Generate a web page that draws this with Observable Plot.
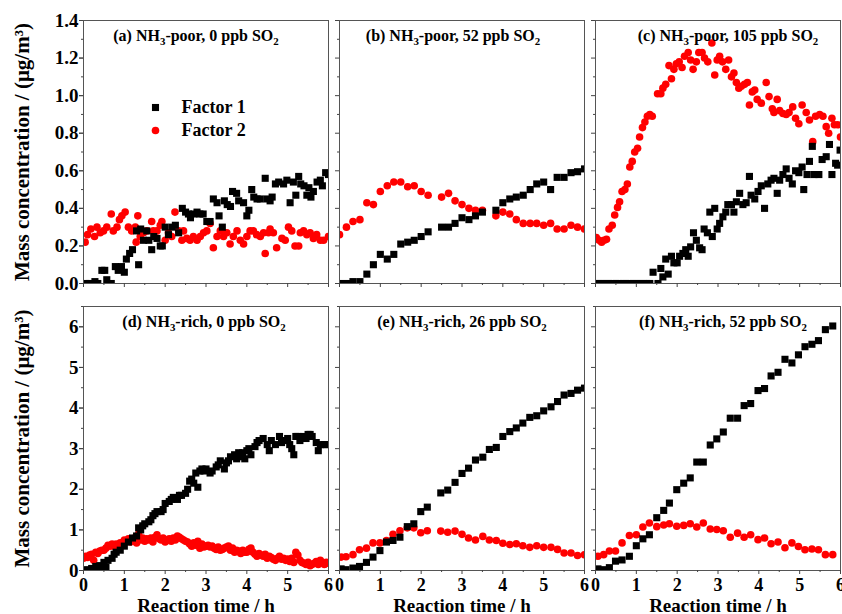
<!DOCTYPE html>
<html><head><meta charset="utf-8">
<script src="https://cdn.jsdelivr.net/npm/d3@7"></script>
<script src="https://cdn.jsdelivr.net/npm/@observablehq/plot@0.6"></script>
<style>
body{margin:0;background:#fff;}
#chart{position:relative;width:842px;height:614px;background:#fff;}
#chart svg{position:absolute;left:0;overflow:visible;}
</style></head><body><div id="chart"></div>
<script>
// ---------- text ----------
const titles = {
  a: "(a) NH₃-poor, 0 ppb SO₂",
  b: "(b) NH₃-poor, 52 ppb SO₂",
  c: "(c) NH₃-poor, 105 ppb SO₂",
  d: "(d) NH₃-rich, 0 ppb SO₂",
  e: "(e) NH₃-rich, 26 ppb SO₂",
  f: "(f) NH₃-rich, 52 ppb SO₂"
};
const legendLabels = ["Factor 1", "Factor 2"];
const yLabel = "Mass concentration / (μg/m³)";
const xLabel = "Reaction time / h";
const xTicks = [0, 1, 2, 3, 4, 5, 6];
const xMinorTicks = [0.5, 1.5, 2.5, 3.5, 4.5, 5.5];
const topYTicks = [0, 0.2, 0.4, 0.6, 0.8, 1.0, 1.2, 1.4];
const topYMinor = [0.1, 0.3, 0.5, 0.7, 0.9, 1.1, 1.3];
const bottomYTicks = [0, 1, 2, 3, 4, 5, 6];
const bottomYMinor = [0.5, 1.5, 2.5, 3.5, 4.5, 5.5, 6.5];

// ---------- data: [time h, mass µg/m3] ----------
const a1 = [[0.05,0.00],[0.15,0.00],[0.28,0.01],[0.35,0.00],[0.45,0.07],[0.52,0.07],[0.57,0.02],[0.68,0.00],[0.78,0.09],[0.85,0.07],[0.93,0.09],[1.00,0.06],[1.05,0.13],[1.13,0.16],[1.20,0.18],[1.30,0.28],[1.35,0.10],[1.40,0.29],[1.47,0.23],[1.55,0.28],[1.60,0.23],[1.67,0.18],[1.72,0.25],[1.80,0.24],[1.88,0.20],[1.93,0.20],[2.00,0.30],[2.08,0.26],[2.17,0.30],[2.25,0.31],[2.33,0.27],[2.42,0.40],[2.50,0.38],[2.57,0.37],[2.62,0.35],[2.70,0.37],[2.78,0.38],[2.85,0.37],[2.93,0.37],[3.02,0.33],[3.10,0.33],[3.18,0.45],[3.27,0.43],[3.32,0.36],[3.40,0.30],[3.45,0.44],[3.52,0.42],[3.60,0.41],[3.65,0.49],[3.75,0.48],[3.80,0.44],[3.92,0.43],[4.00,0.36],[4.05,0.39],[4.12,0.50],[4.17,0.46],[4.25,0.45],[4.33,0.45],[4.45,0.56],[4.50,0.45],[4.57,0.44],[4.62,0.46],[4.70,0.53],[4.78,0.54],[4.90,0.53],[4.98,0.55],[5.06,0.43],[5.14,0.54],[5.20,0.47],[5.27,0.57],[5.32,0.53],[5.40,0.52],[5.47,0.47],[5.52,0.51],[5.57,0.46],[5.63,0.49],[5.72,0.54],[5.80,0.55],[5.85,0.52],[5.93,0.59],[6.00,0.58]];
const a2 = [[0.04,0.22],[0.10,0.26],[0.18,0.29],[0.27,0.25],[0.33,0.30],[0.41,0.27],[0.49,0.28],[0.57,0.30],[0.68,0.37],[0.73,0.28],[0.82,0.30],[0.88,0.34],[0.94,0.36],[1.02,0.38],[1.10,0.30],[1.18,0.28],[1.27,0.30],[1.29,0.22],[1.33,0.36],[1.39,0.25],[1.47,0.27],[1.55,0.28],[1.67,0.33],[1.71,0.28],[1.80,0.28],[1.88,0.31],[1.92,0.33],[2.00,0.23],[2.08,0.27],[2.16,0.25],[2.24,0.38],[2.33,0.28],[2.41,0.23],[2.45,0.28],[2.53,0.24],[2.61,0.23],[2.69,0.25],[2.78,0.23],[2.86,0.25],[2.94,0.27],[3.02,0.28],[3.10,0.32],[3.18,0.19],[3.27,0.25],[3.35,0.28],[3.43,0.25],[3.51,0.27],[3.59,0.21],[3.67,0.25],[3.76,0.28],[3.84,0.23],[3.92,0.21],[4.00,0.25],[4.08,0.28],[4.16,0.28],[4.24,0.26],[4.33,0.25],[4.41,0.27],[4.45,0.16],[4.53,0.27],[4.57,0.29],[4.65,0.27],[4.73,0.19],[4.86,0.24],[4.94,0.23],[5.02,0.30],[5.10,0.28],[5.18,0.20],[5.27,0.20],[5.31,0.27],[5.39,0.28],[5.47,0.26],[5.55,0.27],[5.63,0.24],[5.71,0.26],[5.80,0.23],[5.88,0.23],[6.00,0.25]];

const bTime = [0,0.17,0.33,0.5,0.67,0.83,1.0,1.17,1.33,1.5,1.67,1.83,2.0,2.17,2.5,2.67,2.83,3.0,3.17,3.33,3.5,3.83,4.0,4.17,4.33,4.5,4.67,4.83,5.0,5.17,5.33,5.5,5.67,5.83,6.0];
const b1 = [0,0,0.01,0.01,0.05,0.10,0.155,0.13,0.155,0.21,0.22,0.23,0.25,0.275,0.30,0.30,0.32,0.35,0.34,0.36,0.38,0.39,0.43,0.45,0.46,0.47,0.50,0.53,0.54,0.50,0.565,0.565,0.59,0.595,0.61];
const b2 = [0.26,0.30,0.33,0.34,0.43,0.42,0.49,0.52,0.54,0.54,0.515,0.52,0.49,0.47,0.46,0.48,0.44,0.42,0.40,0.39,0.39,0.36,0.38,0.37,0.34,0.32,0.32,0.32,0.31,0.32,0.29,0.29,0.31,0.30,0.29];

const c1 = [[0,0],[0.08,0],[0.17,0],[0.25,0],[0.33,0],[0.42,0],[0.5,0],[0.58,0],[0.67,0],[0.75,0],[0.83,0],[0.92,0],[1.0,0],[1.08,0],[1.17,0],[1.25,0],[1.33,0],[1.41,0.06],[1.53,0.0],[1.60,0.08],[1.65,0.035],[1.72,0.13],[1.78,0.05],[1.86,0.145],[1.92,0.11],[2.00,0.11],[2.06,0.145],[2.14,0.16],[2.21,0.18],[2.27,0.145],[2.33,0.195],[2.40,0.27],[2.47,0.23],[2.55,0.19],[2.61,0.18],[2.66,0.29],[2.74,0.27],[2.80,0.38],[2.86,0.25],[2.92,0.40],[2.98,0.29],[3.04,0.32],[3.12,0.355],[3.19,0.38],[3.24,0.42],[3.33,0.42],[3.39,0.38],[3.45,0.435],[3.53,0.48],[3.61,0.42],[3.69,0.43],[3.77,0.57],[3.81,0.47],[3.90,0.45],[3.98,0.49],[4.06,0.52],[4.14,0.40],[4.22,0.53],[4.30,0.55],[4.37,0.56],[4.45,0.48],[4.51,0.55],[4.59,0.58],[4.67,0.61],[4.74,0.56],[4.82,0.53],[4.90,0.60],[4.98,0.59],[5.06,0.62],[5.10,0.50],[5.18,0.58],[5.24,0.65],[5.31,0.73],[5.35,0.58],[5.47,0.58],[5.55,0.66],[5.65,0.675],[5.73,0.74],[5.79,0.58],[5.88,0.64],[5.93,0.63],[5.99,0.71]];
const c2 = [[0.02,0.245],[0.09,0.23],[0.15,0.22],[0.21,0.23],[0.27,0.235],[0.33,0.29],[0.41,0.31],[0.47,0.365],[0.54,0.405],[0.59,0.435],[0.65,0.49],[0.72,0.50],[0.78,0.53],[0.84,0.62],[0.90,0.65],[0.96,0.70],[1.03,0.72],[1.08,0.78],[1.15,0.83],[1.21,0.86],[1.27,0.89],[1.33,0.90],[1.39,0.89],[1.52,1.01],[1.60,1.01],[1.65,1.04],[1.72,1.06],[1.80,1.16],[1.86,1.09],[1.92,1.14],[1.98,1.17],[2.05,1.18],[2.12,1.15],[2.18,1.21],[2.27,1.23],[2.33,1.19],[2.39,1.14],[2.47,1.18],[2.53,1.23],[2.61,1.23],[2.67,1.20],[2.75,1.18],[2.85,1.28],[2.92,1.11],[2.98,1.19],[3.04,1.21],[3.11,1.18],[3.19,1.14],[3.26,1.19],[3.33,1.10],[3.39,1.12],[3.45,1.07],[3.51,1.04],[3.57,1.05],[3.65,1.06],[3.72,1.07],[3.77,0.95],[3.84,1.02],[3.90,1.03],[3.96,0.98],[4.06,0.96],[4.18,1.07],[4.25,0.995],[4.33,0.93],[4.37,0.91],[4.45,0.98],[4.51,0.92],[4.59,0.905],[4.67,0.90],[4.74,0.91],[4.83,0.94],[4.90,0.88],[4.98,0.85],[5.06,0.95],[5.16,0.91],[5.24,0.87],[5.32,0.755],[5.39,0.89],[5.49,0.90],[5.57,0.89],[5.65,0.835],[5.71,0.80],[5.79,0.88],[5.85,0.845],[5.93,0.845],[6.00,0.78]];

const d1 = [[0.0,0.0],[0.05,0.0],[0.1,0.02],[0.15,0.0],[0.2,0.05],[0.25,0.02],[0.3,0.1],[0.35,0.05],[0.4,0.12],[0.45,0.1],[0.5,0.2],[0.55,0.08],[0.6,0.25],[0.7,0.3],[0.75,0.4],[0.8,0.45],[0.9,0.5],[1.0,0.6],[1.1,0.7],[1.2,0.8],[1.3,0.85],[1.35,1.05],[1.4,1.0],[1.45,1.1],[1.5,1.15],[1.6,1.2],[1.65,1.25],[1.7,1.35],[1.75,1.4],[1.8,1.45],[1.9,1.45],[1.95,1.5],[2.0,1.65],[2.1,1.7],[2.15,1.75],[2.2,1.8],[2.3,1.75],[2.35,1.85],[2.4,1.85],[2.5,1.9],[2.55,2.0],[2.6,2.2],[2.65,2.25],[2.7,2.15],[2.75,2.4],[2.8,2.05],[2.85,2.45],[2.9,2.5],[2.95,2.45],[3.0,2.5],[3.1,2.4],[3.15,2.45],[3.25,2.55],[3.3,2.6],[3.35,2.7],[3.45,2.5],[3.5,2.65],[3.55,2.7],[3.6,2.8],[3.7,2.85],[3.75,2.75],[3.8,2.9],[3.85,2.8],[3.9,2.9],[3.95,2.75],[4.0,2.95],[4.05,3.0],[4.1,2.85],[4.2,3.05],[4.25,3.15],[4.3,3.2],[4.4,3.25],[4.5,3.1],[4.55,2.95],[4.6,3.2],[4.7,3.1],[4.8,3.3],[4.85,3.15],[4.9,3.2],[5.0,3.25],[5.05,3.1],[5.1,3.0],[5.15,2.85],[5.2,3.3],[5.25,3.3],[5.3,3.2],[5.4,3.3],[5.45,3.25],[5.5,3.35],[5.55,3.35],[5.6,3.3],[5.7,3.15],[5.75,2.95],[5.8,3.1],[5.9,3.1],[5.95,3.1]];
const d2 = [[0.0,0.3],[0.05,0.35],[0.1,0.32],[0.15,0.38],[0.2,0.4],[0.25,0.25],[0.3,0.45],[0.35,0.42],[0.4,0.48],[0.45,0.5],[0.5,0.5],[0.55,0.55],[0.6,0.62],[0.65,0.6],[0.7,0.65],[0.75,0.6],[0.8,0.65],[0.85,0.62],[0.9,0.68],[0.95,0.65],[1.0,0.75],[1.05,0.72],[1.1,0.78],[1.15,0.7],[1.2,0.75],[1.25,0.8],[1.3,0.68],[1.35,0.9],[1.4,0.75],[1.45,0.8],[1.5,0.72],[1.55,0.78],[1.6,0.75],[1.65,0.8],[1.7,0.7],[1.75,0.82],[1.8,0.88],[1.85,0.78],[1.9,0.75],[1.95,0.8],[2.0,0.7],[2.05,0.75],[2.1,0.78],[2.15,0.72],[2.2,0.8],[2.25,0.75],[2.3,0.85],[2.35,0.82],[2.4,0.78],[2.45,0.75],[2.5,0.72],[2.55,0.7],[2.6,0.65],[2.65,0.6],[2.7,0.68],[2.75,0.62],[2.8,0.72],[2.85,0.55],[2.9,0.65],[2.95,0.58],[3.0,0.6],[3.05,0.62],[3.1,0.58],[3.15,0.6],[3.2,0.55],[3.25,0.52],[3.3,0.58],[3.35,0.5],[3.4,0.52],[3.45,0.55],[3.5,0.58],[3.55,0.6],[3.6,0.5],[3.65,0.55],[3.7,0.45],[3.75,0.5],[3.8,0.48],[3.85,0.42],[3.9,0.5],[3.95,0.45],[4.0,0.45],[4.05,0.52],[4.1,0.55],[4.15,0.45],[4.2,0.4],[4.25,0.35],[4.3,0.42],[4.35,0.38],[4.4,0.35],[4.45,0.4],[4.5,0.3],[4.55,0.35],[4.6,0.32],[4.65,0.28],[4.7,0.25],[4.75,0.3],[4.8,0.35],[4.85,0.28],[4.9,0.3],[4.95,0.25],[5.0,0.28],[5.05,0.22],[5.1,0.3],[5.15,0.2],[5.2,0.45],[5.25,0.38],[5.3,0.25],[5.35,0.2],[5.4,0.18],[5.45,0.15],[5.5,0.2],[5.55,0.12],[5.6,0.15],[5.65,0.18],[5.7,0.22],[5.75,0.15],[5.8,0.25],[5.85,0.2],[5.9,0.15],[5.95,0.2],[6.0,0.18]];

const eTime = [0.04,0.16,0.33,0.49,0.66,0.82,0.99,1.15,1.31,1.48,1.66,1.82,1.99,2.15,2.48,2.65,2.83,3.0,3.16,3.33,3.51,3.67,3.84,4.0,4.17,4.33,4.49,4.66,4.83,5.0,5.18,5.34,5.5,5.67,5.83,6.0];
const e1 = [0.04,0.02,0.06,0.10,0.2,0.33,0.49,0.70,0.74,0.82,1.08,1.15,1.45,1.56,1.91,1.98,2.17,2.39,2.52,2.72,2.79,2.98,3.03,3.3,3.42,3.51,3.63,3.77,3.81,3.93,4.03,4.16,4.32,4.36,4.44,4.49];
const e2 = [0.33,0.34,0.39,0.51,0.55,0.68,0.68,0.74,0.89,0.98,1.05,1.05,0.93,0.98,0.97,0.94,0.97,0.89,0.80,0.75,0.84,0.75,0.74,0.67,0.64,0.66,0.61,0.57,0.61,0.57,0.57,0.52,0.43,0.43,0.37,0.39];

const fTime = [0.06,0.2,0.34,0.49,0.65,0.83,1.0,1.16,1.32,1.5,1.67,1.81,1.99,2.16,2.32,2.48,2.64,2.81,2.97,3.13,3.3,3.48,3.64,3.8,3.98,4.14,4.3,4.47,4.64,4.81,4.97,5.13,5.3,5.46,5.63,5.81];
const f1 = [0.04,0.02,0.07,0.23,0.26,0.35,0.61,0.78,0.88,1.3,1.48,1.66,1.99,2.15,2.28,2.67,2.67,3.09,3.24,3.41,3.75,3.75,4.06,4.11,4.43,4.48,4.79,4.88,5.2,5.11,5.31,5.51,5.57,5.66,5.93,6.02];
const f2 = [0.35,0.39,0.48,0.48,0.68,0.86,0.88,1.07,1.17,1.08,1.12,1.15,1.09,1.11,1.15,1.07,1.17,1.02,1.01,0.98,0.82,0.92,0.82,0.88,0.76,0.80,0.66,0.70,0.56,0.68,0.59,0.51,0.53,0.51,0.39,0.39];

// ---------- tidy rows ----------
const fromPairs = (panel, factor, arr) => arr.map(([t, v]) => ({panel, factor, t, v}));
const fromCols = (panel, factor, ts, vs) => ts.map((t, i) => ({panel, factor, t, v: vs[i]}));
const rows = [
  ...fromPairs("a", 1, a1), ...fromPairs("a", 2, a2),
  ...fromCols("b", 1, bTime, b1), ...fromCols("b", 2, bTime, b2),
  ...fromPairs("c", 1, c1), ...fromPairs("c", 2, c2),
  ...fromPairs("d", 1, d1), ...fromPairs("d", 2, d2),
  ...fromCols("e", 1, eTime, e1), ...fromCols("e", 2, eTime, e2),
  ...fromCols("f", 1, fTime, f1), ...fromCols("f", 2, fTime, f2)
];

// ---------- style ----------
const FONT = "'Liberation Serif','Times New Roman',Times,serif";
const RED = "#ff0000";
const TITLE_FS = 16;
const titleDx = {a: -10, b: -9, c: 10, d: -2, e: 0, f: 5};

function subscriptify(svg, basePx) {
  svg.querySelectorAll("text").forEach(el => {
    const s = el.textContent;
    if (!/[₂₃]/.test(s)) return;
    const parts = s.split(/([₂₃])/).filter(p => p !== "");
    el.textContent = "";
    let shifted = false;
    parts.forEach(p => {
      const ts = document.createElementNS("http://www.w3.org/2000/svg", "tspan");
      if (p === "₂" || p === "₃") {
        ts.textContent = p === "₂" ? "2" : "3";
        ts.setAttribute("font-size", (basePx * 0.68).toFixed(1));
        ts.setAttribute("dy", (basePx * 0.28).toFixed(1));
        shifted = true;
      } else {
        ts.textContent = p;
        if (shifted) { ts.setAttribute("dy", (-basePx * 0.28).toFixed(1)); shifted = false; }
      }
      el.appendChild(ts);
    });
  });
}

function makeRow(ids, o) {
  const data = rows.filter(r => ids.includes(r.panel));
  const marks = [
    Plot.dot(data.filter(r => r.factor === 2), {fx: "panel", x: "t", y: "v", fill: RED, r: 3.8, clip: true}),
    Plot.dot(data.filter(r => r.factor === 1), {fx: "panel", x: "t", y: "v", fill: "black", symbol: "square", r: 4, clip: true}),
    Plot.frame({stroke: "#555", strokeWidth: 1}),
    Plot.axisY({ticks: o.yTicks, tickSize: 4, tickPadding: 1, tickFormat: o.fmt, fontSize: 19, fontWeight: "bold", label: null, stroke: "#444"}),
    Plot.axisY({ticks: o.yTicks, tickSize: 4, text: null, label: null, facetAnchor: null, stroke: "#444"}),
    Plot.axisY({ticks: o.yMinor, tickSize: 2, text: null, label: null, facetAnchor: null, stroke: "#444"}),
    o.bottom
      ? Plot.axisX({ticks: xTicks, tickSize: 4, tickPadding: 4, tickFormat: d => String(d), fontSize: 18, fontWeight: "bold", label: null, facetAnchor: null, stroke: "#444"})
      : Plot.axisX({ticks: xTicks, tickSize: 4, text: null, label: null, facetAnchor: null, stroke: "#444"}),
    Plot.axisX({ticks: xMinorTicks, tickSize: 2, text: null, label: null, facetAnchor: null, stroke: "#444"}),
    ...ids.map(id => Plot.text([{id, title: titles[id]}], {fx: "id", text: "title", frameAnchor: "top", dy: 15, dx: titleDx[id], lineAnchor: "middle", fontSize: TITLE_FS, fontWeight: "bold", fill: "black"})),
    Plot.text([{id: ids[0]}], {fx: "id", text: () => yLabel, frameAnchor: "left", rotate: -90, dx: -61, textAnchor: "middle", lineAnchor: "middle", fontSize: 21, fontWeight: "bold", fill: "black"})
  ];
  if (o.bottom) {
    marks.push(Plot.text(ids.map(id => ({id})), {fx: "id", text: () => xLabel, frameAnchor: "bottom", dy: 35, textAnchor: "middle", lineAnchor: "middle", fontSize: 19, fontWeight: "bold", fill: "black"}));
  }
  if (o.legend) {
    marks.push(
      Plot.dot([{id: ids[0]}], {fx: "id", frameAnchor: "top-left", dx: 72, dy: 87, symbol: "square", fill: "black", r: 4}),
      Plot.dot([{id: ids[0]}], {fx: "id", frameAnchor: "top-left", dx: 72, dy: 110, fill: RED, r: 3.8}),
      Plot.text([{id: ids[0], label: legendLabels[0]}], {fx: "id", text: "label", frameAnchor: "top-left", dx: 98, dy: 87, textAnchor: "start", lineAnchor: "middle", fontSize: 18, fontWeight: "bold", fill: "black"}),
      Plot.text([{id: ids[0], label: legendLabels[1]}], {fx: "id", text: "label", frameAnchor: "top-left", dx: 98, dy: 110, textAnchor: "start", lineAnchor: "middle", fontSize: 18, fontWeight: "bold", fill: "black"})
    );
  }
  const svg = Plot.plot({
    width: 842, height: o.height,
    marginLeft: 83, marginRight: 2, marginTop: o.mt, marginBottom: o.mb,
    style: {fontFamily: FONT, fontWeight: "bold", background: "transparent", color: "black", overflow: "visible"},
    fx: {domain: ids, paddingInner: 0.043, paddingOuter: 0, axis: null, label: null},
    x: {domain: [0, 6]},
    y: {domain: o.yDomain},
    marks
  });
  subscriptify(svg, TITLE_FS);
  svg.style.top = o.top + "px";
  return svg;
}

const chart = document.getElementById("chart");
chart.appendChild(makeRow(["a", "b", "c"], {height: 295, top: 0, mt: 20, mb: 12, yDomain: [0, 1.4], yTicks: topYTicks, yMinor: topYMinor, fmt: d3.format(".1f"), bottom: false, legend: true}));
chart.appendChild(makeRow(["d", "e", "f"], {height: 319, top: 295, mt: 11, mb: 44, yDomain: [0, 6.5], yTicks: bottomYTicks, yMinor: bottomYMinor, fmt: d => String(d), bottom: true, legend: false}));
</script></body></html>
